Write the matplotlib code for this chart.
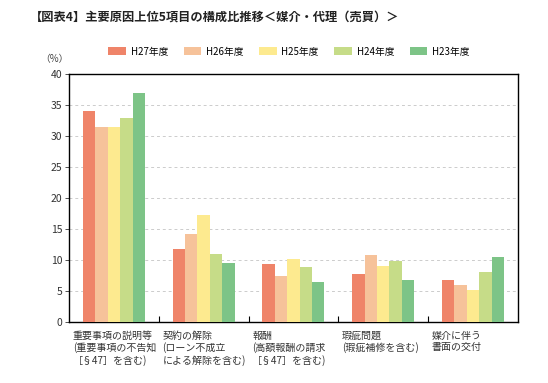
import matplotlib
matplotlib.use("Agg")
import matplotlib.pyplot as plt
import numpy as np

plt.rcParams["font.family"] = ["Noto Sans CJK JP", "DejaVu Sans"]

# Categories (x axis), one label per group
categories = [
    "重要事項の説明等\n(重要事項の不告知\n［§47］を含む)",
    "契約の解除\n(ローン不成立\nによる解除を含む)",
    "報酬\n(高額報酬の請求\n［§47］を含む)",
    "瑕疵問題\n(瑕疵補修を含む)",
    "媒介に伴う\n書面の交付",
]

# Share (%) per fiscal year
years = ["H27年度", "H26年度", "H25年度", "H24年度", "H23年度"]
h27 = [34.0, 11.8, 9.4, 7.8, 6.8]
h26 = [31.5, 14.2, 7.4, 10.8, 6.0]
h25 = [31.5, 17.3, 10.2, 9.0, 5.2]
h24 = [33.0, 11.0, 8.9, 9.8, 8.1]
h23 = [37.0, 9.5, 6.5, 6.8, 10.5]
series = [h27, h26, h25, h24, h23]
colors = ["#ef8469", "#f6c29a", "#fdea8f", "#c6dc88", "#7dc487"]

title = "【図表4】主要原因上位5項目の構成比推移＜媒介・代理（売買）＞"
y_ticks = [0, 5, 10, 15, 20, 25, 30, 35, 40]

fig = plt.figure(figsize=(5.48, 3.83), dpi=100)
ax = fig.add_axes([0.126, 0.159, 0.819, 0.647])

x = np.arange(len(categories))
bar_w = 0.138
for i, (vals, col, lab) in enumerate(zip(series, colors, years)):
    ax.bar(x + (i - 2) * bar_w, vals, width=bar_w, color=col, label=lab, zorder=3)

ax.set_xlim(-0.5, len(categories) - 0.5)
ax.set_ylim(0, 40)
ax.set_yticks(y_ticks)
ax.tick_params(axis="y", direction="out", length=3, width=0.6, labelsize=7.5,
               colors="#333333", pad=2)
ax.yaxis.grid(True, linestyle=(0, (3, 3)), color="#cccccc", linewidth=0.7, zorder=0)

# group boundaries as ticks on the bottom spine (pointing inwards)
ax.set_xticks(np.arange(0.5, len(categories) - 1, 1.0))
ax.set_xticklabels([])
ax.tick_params(axis="x", direction="in", length=4, width=0.8, color="black")

for sp in ax.spines.values():
    sp.set_linewidth(1.0)
    sp.set_color("black")

for i, lab in enumerate(categories):
    ax.text(i - 0.46, -0.035, lab, transform=ax.get_xaxis_transform(),
            ha="left", va="top", fontsize=7.2, color="#333333", linespacing=1.2)

fig.text(0.055, 0.955, title, fontsize=8.8, fontweight="bold", ha="left", va="center",
         color="#222222")
fig.text(0.1, 0.847, "（%）", fontsize=7, ha="center", va="center", color="#444444")

ax.legend(loc="lower center", bbox_to_anchor=(0.49, 1.055), ncol=5, frameon=False,
          fontsize=7, handlelength=1.8, handleheight=0.9, columnspacing=1.6,
          handletextpad=0.5, borderaxespad=0)

fig.savefig("out.png", dpi=100)
